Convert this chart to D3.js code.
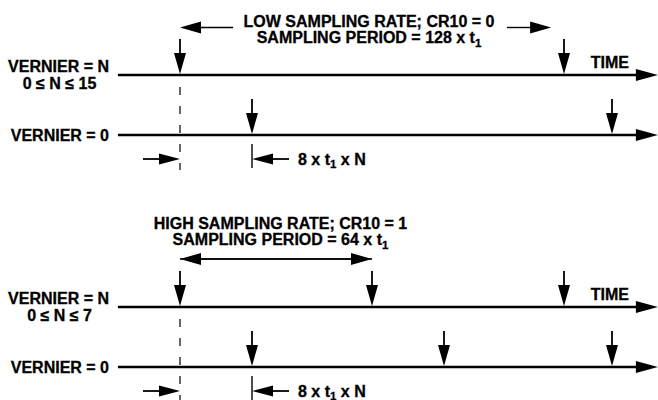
<!DOCTYPE html>
<html>
<head>
<meta charset="utf-8">
<style>
  body { margin: 0; background: #fff; }
  svg { display: block; }
  text { font-family: "Liberation Sans", Arial, Helvetica, sans-serif; font-weight: bold; font-size: 16px; fill: #000; stroke: #000; stroke-width: 0.3px; }
</style>
</head>
<body>
<svg width="658" height="400"></svg>
<script src="https://d3js.org/d3.v7.min.js"></script>
<script>
// time is in units of t1; sample 0 of the VERNIER = N trace sits at t = 0
const panelNames = ["low", "high"];
const titleLine1 = ["LOW SAMPLING RATE; CR10 = 0", "HIGH SAMPLING RATE; CR10 = 1"];
const titleLine2 = ["SAMPLING PERIOD = 128 x t", "SAMPLING PERIOD = 64 x t"];
const rangeLabels = ["0 \u2264 N \u2264 15", "0 \u2264 N \u2264 7"];
const samplesN = [[0, 128], [0, 64, 128]];
const samples0 = [[24, 144], [24, 88, 144]];
// period annotation: [from, to] pieces of the arrow, in t1
const periodArrows = [[[17.7, 0], [109, 123.7]], [[0, 64]]];
const periodDouble = [false, true];
const titleCenter = [63, 33.5];
const timeStart = -20.7, timeEnd = 159.3;

let svg = d3.select("svg");

let x = d3.scaleLinear().domain([0, 128]).range([180, 564]);

// vertical layout of each panel (top of panel)
let panelTop = d3.scaleOrdinal().domain(panelNames).range([0, 231]);

function arrow(g, x1, y1, x2, y2, opts) {
  let len = Math.hypot(x2 - x1, y2 - y1);
  let ux = (x2 - x1) / len, uy = (y2 - y1) / len;
  let hl = opts.head || 21, hw = opts.width || 12;
  let bx = x2 - ux * hl, by = y2 - uy * hl;
  g.append("line")
    .attr("x1", x1).attr("y1", y1).attr("x2", bx + ux * 2).attr("y2", by + uy * 2)
    .style("stroke", "#000").style("stroke-width", opts.sw || 1.8);
  g.append("path")
    .attr("d", d3.line()([[x2, y2], [bx - uy * hw / 2, by + ux * hw / 2], [bx + uy * hw / 2, by - ux * hw / 2]]) + "Z")
    .style("fill", "#000");
}

panelNames.forEach((name, i) => {
  let top = panelTop(name);
  let g = svg.append("g").attr("transform", "translate(0," + top + ")");
  let yN = i == 0 ? 75 : 76;
  let y0 = yN + 60;
  let yM = y0 + 24;

  // title
  let cx = x(titleCenter[i]);
  g.append("text").attr("x", cx).attr("y", i == 0 ? 27 : -2).attr("text-anchor", "middle").text(titleLine1[i]);
  let t2 = g.append("text").attr("x", cx).attr("y", i == 0 ? 43 : 14).attr("text-anchor", "middle");
  t2.append("tspan").text(titleLine2[i]);
  t2.append("tspan").attr("dy", 4).style("font-size", "11.5px").text("1");

  // period arrow
  let py = i == 0 ? 27.5 : 28;
  periodArrows[i].forEach(seg => {
    arrow(g, x(seg[0]), py, x(seg[1]), py, { sw: 1.4 });
  });
  if (periodDouble[i]) {
    let seg = periodArrows[i][0];
    arrow(g, x(seg[1]), py, x(seg[0]), py, { sw: 1.4 });
  }

  // time axes
  [yN, y0].forEach(yy => {
    arrow(g, x(timeStart), yy, x(timeEnd), yy, { head: 22, width: 12, sw: 2.5 });
  });

  // labels
  g.append("text").attr("x", 109).attr("y", yN - 3).attr("text-anchor", "end").text("VERNIER = N");
  g.append("text").attr("x", 59.5).attr("y", yN + 14).attr("text-anchor", "middle").text(rangeLabels[i]);
  g.append("text").attr("x", 109).attr("y", y0 + 5.5).attr("text-anchor", "end").text("VERNIER = 0");
  g.append("text").attr("x", x(timeEnd) - 29).attr("y", yN - 7).attr("text-anchor", "end").text("TIME");

  // sample arrows
  samplesN[i].forEach(t => arrow(g, x(t), yN - 36, x(t), yN - 1, {}));
  samples0[i].forEach(t => arrow(g, x(t), y0 - 36, x(t), y0 - 1, {}));

  // dashed reference line
  g.append("line")
    .attr("x1", x(0)).attr("x2", x(0))
    .attr("y1", yN + 12).attr("y2", yM + 11)
    .style("stroke", "#000").style("stroke-width", 1.2)
    .style("stroke-dasharray", "8,11");

  // vernier offset markers
  arrow(g, x(0) - 37, yM, x(0), yM, { width: 11 });
  let xo = x(samples0[i][0]);
  g.append("line").attr("x1", xo).attr("x2", xo).attr("y1", yM - 15).attr("y2", yM + 9)
    .style("stroke", "#000").style("stroke-width", 1.4);
  arrow(g, xo + 37, yM, xo, yM, { width: 11 });
  let mt = g.append("text").attr("x", xo + 46).attr("y", yM + 5.5);
  mt.append("tspan").text("8 x t");
  mt.append("tspan").attr("dy", 3).style("font-size", "11.5px").text("1");
  mt.append("tspan").attr("dy", -3).text(" x N");
});
</script>
</body>
</html>
